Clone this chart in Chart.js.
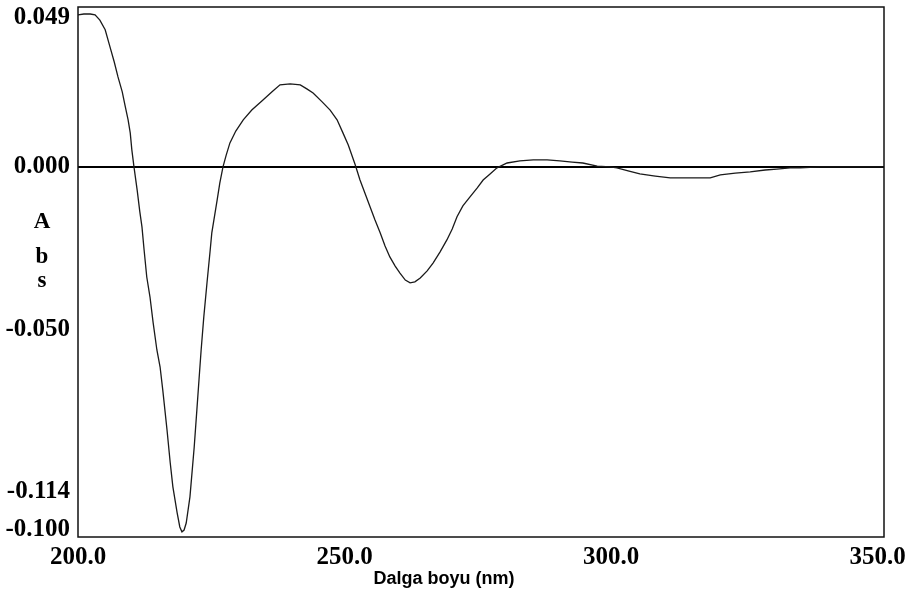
<!DOCTYPE html>
<html>
<head>
<meta charset="utf-8">
<title>Abs - Dalga boyu</title>
<script src="https://cdn.jsdelivr.net/npm/chart.js@4.4.1/dist/chart.umd.min.js"></script>
<style>
    body { margin: 0; background: #ffffff; }
    #chartBox { width: 912px; height: 596px; }
</style>
</head>
<body>
<div id="chartBox"><canvas id="specChart" width="912" height="596"></canvas></div>
<script>
// wavelength (nm)
var wavelengths = [
    200.0, 201.1, 202.3, 203.2, 204.1, 205.1, 206.0, 206.8, 207.5, 208.3,
    208.8, 209.4, 209.8, 210.1, 210.5, 211.1, 211.6, 212.0, 212.4, 212.9,
    213.5, 214.1, 214.8, 215.4, 215.9, 216.7, 217.3, 217.8, 218.6, 219.1,
    219.5, 219.9, 220.3, 221.0, 221.8, 222.3, 222.7, 223.1, 223.6, 224.2,
    224.8, 225.1, 226.1, 226.6, 227.2, 227.8, 228.5, 229.6, 231.0, 232.6,
    234.7, 236.4, 237.9, 239.8, 241.7, 243.0, 244.1, 245.8, 247.3, 248.6,
    249.7, 250.7, 252.0, 252.9, 253.8, 254.8, 255.7, 256.7, 257.6, 258.5,
    259.5, 260.4, 261.4, 262.3, 263.2, 264.2, 265.5, 266.6, 267.9, 269.2,
    270.2, 271.1, 272.2, 273.5, 274.9, 276.0, 277.3, 278.6, 280.5, 282.9,
    285.4, 288.0, 290.4, 292.7, 294.7, 297.4, 299.8, 301.1, 303.2, 305.4,
    308.3, 311.1, 314.8, 318.6, 320.5, 323.3, 326.1, 328.9, 331.1, 333.6,
    335.5, 339.2, 344.8, 351.2
];

// absorbance values (same scale as the 0.049 / 0.000 ticks)
var absValues = [
    0.0500, 0.0503, 0.0503, 0.0500, 0.0483, 0.0451, 0.0395, 0.0345, 0.0296, 0.0247,
    0.0204, 0.0155, 0.0112, 0.0056, 0.0000, -0.0076, -0.0148, -0.0197, -0.0273, -0.0362,
    -0.0427, -0.0513, -0.0602, -0.0658, -0.0733, -0.0865, -0.0973, -0.1052, -0.1138, -0.1184,
    -0.1200, -0.1194, -0.1171, -0.1085, -0.0921, -0.0799, -0.0700, -0.0602, -0.0493, -0.0381,
    -0.0273, -0.0217, -0.0109, -0.0053, 0.0000, 0.0039, 0.0079, 0.0118, 0.0155, 0.0187,
    0.0220, 0.0247, 0.0270, 0.0273, 0.0270, 0.0256, 0.0243, 0.0214, 0.0187, 0.0155,
    0.0112, 0.0072, 0.0007, -0.0043, -0.0085, -0.0132, -0.0174, -0.0217, -0.0260, -0.0296,
    -0.0326, -0.0349, -0.0372, -0.0381, -0.0378, -0.0365, -0.0342, -0.0316, -0.0280, -0.0240,
    -0.0204, -0.0164, -0.0128, -0.0099, -0.0069, -0.0043, -0.0023, -0.0003, 0.0013, 0.0020,
    0.0023, 0.0023, 0.0020, 0.0016, 0.0013, 0.0003, 0.0000, -0.0003, -0.0013, -0.0023,
    -0.0030, -0.0036, -0.0036, -0.0036, -0.0026, -0.0020, -0.0016, -0.0010, -0.0007, -0.0003,
    -0.0003, 0.0000, 0.0000, 0.0000
];

var xTickValues = [200, 250, 300, 350];
var xTickLabels = ['200.0', '250.0', '300.0', '350.0'];

// the original tick labels are not evenly spaced, so they sit where the picture has them
var yTickValues = [0.049, 0, -0.0536, -0.1069, -0.1194];
var yTickLabels = ['0.049', '0.000', '-0.050', '-0.114', '-0.100'];

var points = [];
for (var i = 0; i < wavelengths.length; i++) {
    points.push({ x: wavelengths[i], y: absValues[i] });
}

var frameAndTitles = {
    id: 'frameAndTitles',
    afterDraw: function (chart) {
        var ctx = chart.ctx;
        var area = chart.chartArea;

        ctx.save();
        ctx.strokeStyle = '#111111';
        ctx.lineWidth = 1.5;
        ctx.strokeRect(area.left, area.top, area.right - area.left, area.bottom - area.top);

        // stacked "A b s" axis title
        ctx.fillStyle = '#000000';
        ctx.font = 'bold 23px "Liberation Serif"';
        ctx.textAlign = 'center';
        ctx.textBaseline = 'alphabetic';
        ctx.fillText('A', 42, 228);
        ctx.fillText('b', 42, 263);
        ctx.fillText('s', 42, 287);

        ctx.font = 'bold 18px "Liberation Sans"';
        ctx.fillText('Dalga boyu (nm)', 444, 584);
        ctx.restore();
    }
};

var ctx = document.getElementById('specChart').getContext('2d');
var specChart = new Chart(ctx, {
    type: 'line',
    data: {
        datasets: [{
            label: 'Abs',
            data: points,
            borderColor: '#1a1a1a',
            borderWidth: 1.3,
            pointRadius: 0,
            tension: 0,
            fill: false
        }]
    },
    options: {
        responsive: false,
        animation: false,
        layout: { padding: { top: 7, right: 28, left: 0, bottom: 0 } },
        plugins: {
            legend: { display: false },
            tooltip: { enabled: false }
        },
        scales: {
            x: {
                type: 'linear',
                min: 200,
                max: 351.2,
                afterBuildTicks: function (axis) {
                    axis.ticks = xTickValues.map(function (v) { return { value: v }; });
                },
                afterFit: function (axis) {
                    axis.height = 59;
                    axis.paddingLeft = 0;
                    axis.paddingRight = 0;
                },
                grid: { display: false, drawTicks: false },
                border: { display: false },
                ticks: {
                    autoSkip: false,
                    maxRotation: 0,
                    padding: 6,
                    color: '#000000',
                    font: { family: 'Liberation Serif', size: 25, weight: 'bold' },
                    callback: function (value, index) { return xTickLabels[index]; }
                }
            },
            y: {
                type: 'linear',
                min: -0.1217,
                max: 0.0526,
                afterBuildTicks: function (axis) {
                    axis.ticks = yTickValues.map(function (v) { return { value: v }; });
                },
                afterFit: function (axis) {
                    // labels may hang over the frame, as in the original
                    axis.width = 78;
                    axis.paddingTop = 0;
                    axis.paddingBottom = 0;
                },
                grid: {
                    drawTicks: false,
                    color: function (c) { return c.tick && c.tick.value === 0 ? '#000000' : 'rgba(0,0,0,0)'; },
                    lineWidth: 2
                },
                border: { display: false },
                ticks: {
                    autoSkip: false,
                    padding: 8,
                    color: '#000000',
                    font: { family: 'Liberation Serif', size: 25, weight: 'bold' },
                    callback: function (value, index) { return yTickLabels[index]; }
                }
            }
        }
    },
    plugins: [frameAndTitles]
});
</script>
</body>
</html>
